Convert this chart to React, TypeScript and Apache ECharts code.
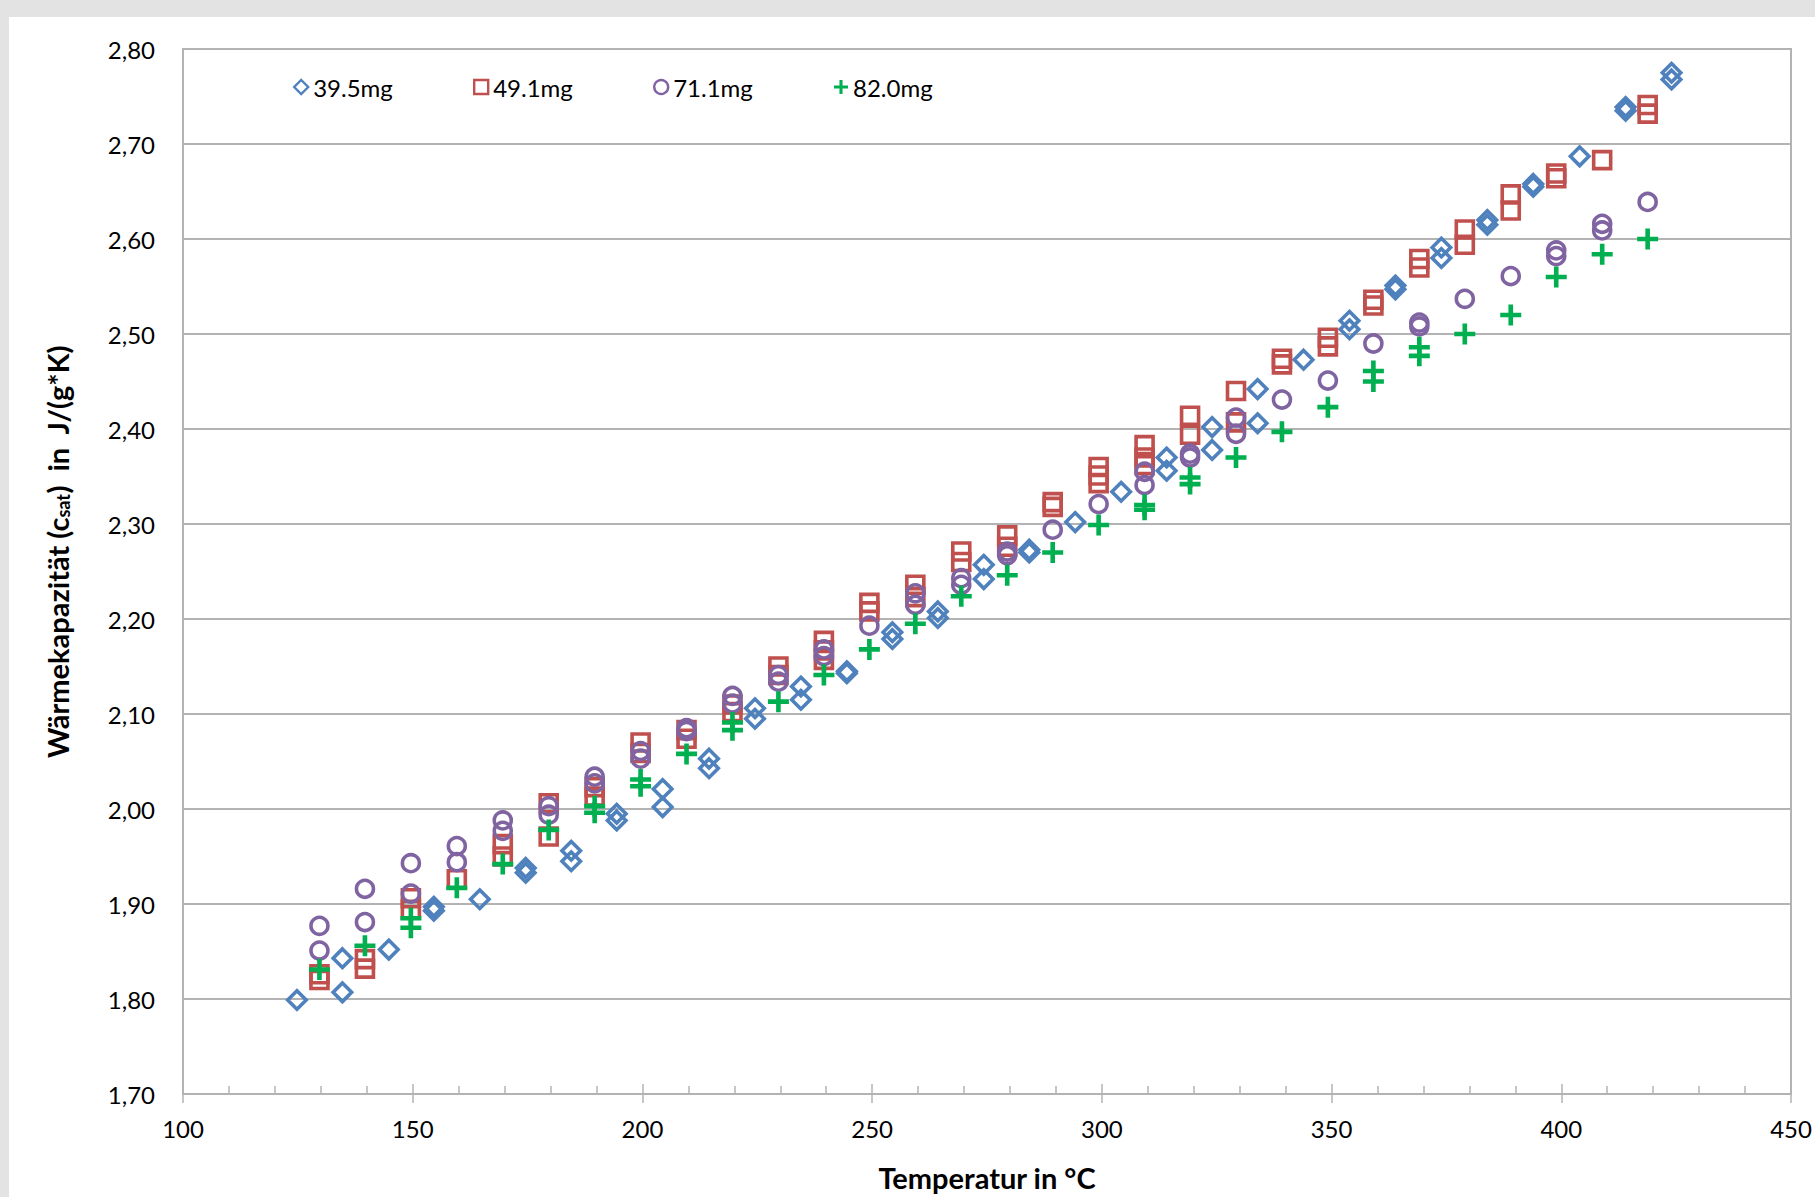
import React, { useEffect, useRef } from "react";
import * as echarts from "echarts";

// ---- data (temperature °C, heat capacity J/(g*K)) ----
const names = ["39.5mg", "49.1mg", "71.1mg", "82.0mg"];
const colors = ["#4F81BD", "#C0504D", "#8064A2", "#00B050"];

const s395: [number, number][] = [
  [124.8, 1.799], [134.7, 1.843], [134.7, 1.807], [144.8, 1.852],
  [154.6, 1.897], [154.6, 1.893], [164.6, 1.905], [174.6, 1.938], [174.6, 1.933],
  [184.5, 1.956], [184.5, 1.945], [194.4, 1.995], [194.4, 1.988],
  [204.4, 2.021], [204.4, 2.002], [214.5, 2.053], [214.5, 2.043],
  [224.5, 2.106], [224.5, 2.095], [234.5, 2.129], [234.5, 2.115],
  [244.5, 2.145], [244.5, 2.143], [254.4, 2.186], [254.4, 2.179],
  [264.3, 2.208], [264.3, 2.201], [274.3, 2.257], [274.3, 2.242],
  [284.2, 2.273], [284.2, 2.270], [294.2, 2.302], [304.2, 2.334],
  [314.1, 2.370], [314.1, 2.356], [324.0, 2.402], [324.0, 2.378],
  [333.9, 2.442], [333.9, 2.406], [343.9, 2.473], [353.9, 2.514], [353.9, 2.505],
  [363.9, 2.551], [363.9, 2.547], [373.9, 2.591], [373.9, 2.580],
  [383.9, 2.620], [383.9, 2.615], [393.9, 2.658], [393.9, 2.655],
  [404.0, 2.687], [414.0, 2.739], [414.0, 2.735], [424.0, 2.775], [424.0, 2.768],
];

const s491: [number, number][] = [
  [129.7, 1.826], [129.7, 1.820], [139.6, 1.842], [139.6, 1.832],
  [149.6, 1.906], [149.6, 1.894], [159.6, 1.926], [169.6, 1.963], [169.6, 1.950],
  [179.6, 2.006], [179.6, 1.971], [189.6, 2.023], [189.6, 2.013],
  [199.6, 2.070], [199.6, 2.059], [209.6, 2.083], [209.6, 2.074],
  [219.6, 2.110], [219.6, 2.102], [229.6, 2.150], [229.6, 2.141],
  [239.5, 2.177], [239.5, 2.167], [239.5, 2.157], [249.4, 2.217], [249.4, 2.208],
  [259.4, 2.236], [259.4, 2.223], [269.4, 2.271], [269.4, 2.260],
  [279.4, 2.288], [279.4, 2.276], [289.3, 2.323], [289.3, 2.318],
  [299.3, 2.360], [299.3, 2.351], [299.3, 2.343], [309.3, 2.383], [309.3, 2.370], [309.3, 2.362],
  [319.2, 2.414], [319.2, 2.394], [329.2, 2.440], [329.2, 2.407],
  [339.2, 2.474], [339.2, 2.468], [349.2, 2.496], [349.2, 2.487],
  [359.1, 2.536], [359.1, 2.530], [369.1, 2.579], [369.1, 2.570],
  [379.0, 2.610], [379.0, 2.594], [389.0, 2.647], [389.0, 2.630],
  [398.9, 2.669], [398.9, 2.664], [408.9, 2.683], [418.8, 2.741], [418.8, 2.732],
];

const s711: [number, number][] = [
  [129.7, 1.877], [129.7, 1.851], [139.6, 1.916], [139.6, 1.881],
  [149.6, 1.943], [149.6, 1.911], [159.6, 1.961], [159.6, 1.944],
  [169.6, 1.988], [169.6, 1.977], [179.6, 2.003], [179.6, 1.994],
  [189.6, 2.034], [189.6, 2.027], [199.6, 2.061], [199.6, 2.053],
  [209.6, 2.085], [209.6, 2.082], [219.6, 2.119], [219.6, 2.111],
  [229.6, 2.141], [229.6, 2.134], [239.5, 2.168], [239.5, 2.161],
  [249.4, 2.193], [259.4, 2.227], [259.4, 2.215], [269.4, 2.243], [269.4, 2.236],
  [279.4, 2.271], [279.4, 2.267], [289.3, 2.294], [299.3, 2.321],
  [309.3, 2.355], [309.3, 2.341], [319.2, 2.374], [319.2, 2.370],
  [329.2, 2.412], [329.2, 2.395], [339.2, 2.431], [349.2, 2.451], [359.1, 2.490],
  [369.1, 2.512], [369.1, 2.508], [379.0, 2.537], [389.0, 2.561],
  [398.9, 2.588], [398.9, 2.582], [408.9, 2.616], [408.9, 2.609], [418.8, 2.639],
];

const s820: [number, number][] = [
  [129.7, 1.831], [139.6, 1.856], [149.6, 1.885], [149.6, 1.875], [159.6, 1.917],
  [169.6, 1.942], [179.6, 1.978], [189.6, 2.003], [189.6, 1.996],
  [199.6, 2.031], [199.6, 2.024], [209.6, 2.058], [219.6, 2.091], [219.6, 2.083],
  [229.6, 2.113], [239.5, 2.141], [249.4, 2.168], [259.4, 2.195], [269.4, 2.224],
  [279.4, 2.246], [289.3, 2.270], [299.3, 2.299], [309.3, 2.320], [309.3, 2.315],
  [319.2, 2.349], [319.2, 2.342], [329.2, 2.370], [339.2, 2.397], [349.2, 2.423],
  [359.1, 2.461], [359.1, 2.450], [369.1, 2.486], [369.1, 2.477], [379.0, 2.500],
  [389.0, 2.520], [398.9, 2.560], [408.9, 2.584], [418.8, 2.600],
];

const xMin = 100, xMax = 450, xStep = 50;
const yMin = 1.7, yMax = 2.8, yStep = 0.1;

const FONT = 'Lato, "Liberation Sans", sans-serif';
const PLUS = "path://M7.8,0H12.2V7.8H20V12.2H12.2V20H7.8V12.2H0V7.8H7.8Z";
const GRID_C = "#b3b3b3";

export default function App() {
  const ref = useRef<HTMLDivElement>(null);
  useEffect(() => {
    if (!ref.current) return;
    const chart = echarts.init(ref.current, undefined, { renderer: "svg" });
    const seriesData = [s395, s491, s711, s820];
    const symbols = ["diamond", "rect", "circle", PLUS];
    const sizes = [18.5, 17, 17, 21];
    const legendLeft = [293, 473, 653, 834];

    const series = seriesData.map((d, i) => ({
      type: "scatter",
      name: names[i],
      data: d,
      symbol: symbols[i],
      symbolSize: sizes[i],
      itemStyle:
        i === 3
          ? { color: colors[i], borderWidth: 0, opacity: 1 }
          : { color: "rgba(255,255,255,0)", borderColor: colors[i], borderWidth: 3.6, opacity: 1 },
      emphasis: { disabled: true },
    }));

    const legends = names.map((n, i) => ({
      show: true,
      left: legendLeft[i] - 9,
      top: 58,
      padding: 0,
      itemWidth: 14,
      itemHeight: 14,
      itemGap: 0,
      selectedMode: false,
      textStyle: { fontFamily: FONT, fontSize: 24, color: "#000", lineHeight: 24 },
      data: [
        {
          name: n,
          itemStyle:
            i === 3
              ? { color: colors[i], borderWidth: 0 }
              : { color: "rgba(255,255,255,0)", borderColor: colors[i], borderWidth: 2.4 },
        },
      ],
    }));

    chart.setOption({
      animation: false,
      backgroundColor: "#ffffff",
      grid: {
        left: 174,
        top: 32,
        right: 24,
        bottom: 103,
        show: true,
        borderColor: GRID_C,
        borderWidth: 2,
        backgroundColor: "transparent",
      },
      legend: legends,
      xAxis: [
        {
          type: "value",
          min: xMin,
          max: xMax,
          interval: xStep,
          position: "bottom",
          axisLine: { show: true, lineStyle: { color: GRID_C, width: 2 } },
          axisTick: { show: true, inside: true, length: 10, lineStyle: { color: GRID_C, width: 1.5 } },
          minorTick: { show: true, splitNumber: 5, length: 8, lineStyle: { color: GRID_C, width: 1.5 } },
          splitLine: { show: false },
          axisLabel: { fontFamily: FONT, fontSize: 24, color: "#000", margin: 22 },
          name: "Temperatur in °C",
          nameLocation: "middle",
          nameGap: 69,
          nameTextStyle: { fontFamily: FONT, fontSize: 29, fontWeight: "bold", color: "#000" },
        },
        {
          type: "value",
          min: xMin,
          max: xMax,
          interval: xStep,
          position: "bottom",
          axisLine: { show: false },
          axisTick: { show: true, inside: false, length: 9, lineStyle: { color: GRID_C, width: 1.5 } },
          axisLabel: { show: false },
          splitLine: { show: false },
        },
      ],
      yAxis: {
        type: "value",
        min: yMin,
        max: yMax,
        interval: yStep,
        axisLine: { show: true, lineStyle: { color: GRID_C, width: 2 } },
        axisTick: { show: false },
        splitLine: { show: true, lineStyle: { color: GRID_C, width: 2 } },
        axisLabel: {
          fontFamily: FONT,
          fontSize: 24,
          color: "#000",
          margin: 28,
          formatter: (v: number) => v.toFixed(2).replace(".", ","),
        },
        name: "{f|Wärmekapazität (c}{s|sat}{b|)  in  J/(g*K)}",
        nameLocation: "middle",
        nameRotate: 90,
        nameGap: 111,
        nameTextStyle: {
          fontFamily: FONT,
          color: "#000",
          rich: {
            f: { fontFamily: FONT, fontSize: 29, fontWeight: "bold", color: "#000", padding: [0, 0, 0, 40] },
            b: { fontFamily: FONT, fontSize: 29, fontWeight: "bold", color: "#000" },
            s: { fontFamily: FONT, fontSize: 18, fontWeight: "bold", color: "#000", verticalAlign: "bottom", padding: [12, 0, 0, 0] },
          },
        },
      },
      series,
    });
    return () => chart.dispose();
  }, []);

  return (
    <div style={{ position: "fixed", left: 0, top: 0, width: 1815, height: 1197, background: "#e3e3e3" }}>
      <div ref={ref} style={{ position: "absolute", left: 9, top: 17, width: 1806, height: 1180, background: "#fff" }} />
    </div>
  );
}
